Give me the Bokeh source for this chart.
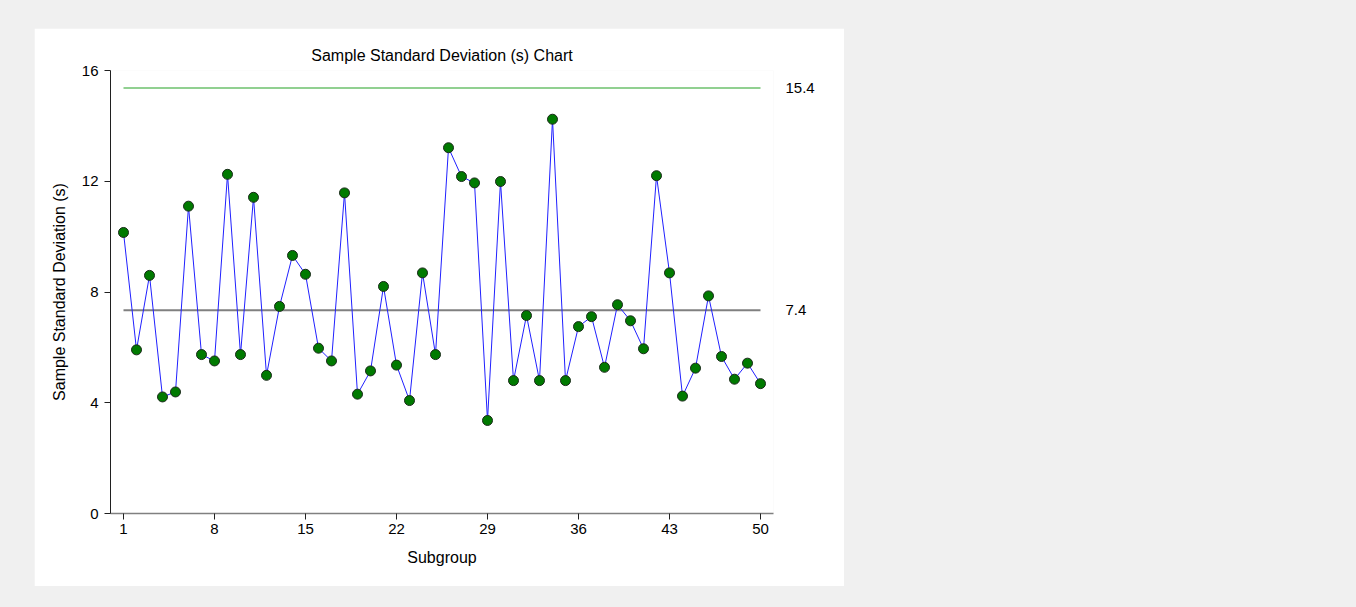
from bokeh.plotting import figure
from bokeh.models import Range1d, FixedTicker, ColumnDataSource, LinearAxis
from bokeh.layouts import column
from bokeh.embed import file_html
from bokeh.resources import INLINE

subgroups = list(range(1, 51))
s_values = [10.15, 5.91, 8.60, 4.21, 4.39, 11.10, 5.74, 5.51, 12.25, 5.74,
            11.42, 4.99, 7.48, 9.32, 8.64, 5.97, 5.51, 11.58, 4.31, 5.15,
            8.20, 5.36, 4.08, 8.69, 5.74, 13.21, 12.17, 11.94, 3.36, 11.99,
            4.80, 7.15, 4.80, 14.24, 4.80, 6.75, 7.11, 5.28, 7.54, 6.96,
            5.95, 12.20, 8.69, 4.24, 5.25, 7.86, 5.67, 4.85, 5.43, 4.69]
ucl = 15.37
cl = 7.34
ucl_label = "15.4"
cl_label = "7.4"
x_ticks = [1, 8, 15, 22, 29, 36, 43, 50]
y_ticks = [0, 4, 8, 12, 16]

FONT = "Liberation Sans"

p = figure(width=810, height=558, output_backend="svg", toolbar_location=None,
           x_range=Range1d(0, 51), y_range=Range1d(0, 16),
           min_border_left=76, min_border_right=71, min_border_top=42, min_border_bottom=73,
           title="Sample Standard Deviation (s) Chart")
p.margin = (28, 0, 0, 34)
p.background_fill_color = "white"
p.border_fill_color = "white"
p.outline_line_color = None
p.grid.visible = False

p.title.align = "center"
p.title.text_font = FONT
p.title.text_font_size = "16px"
p.title.text_font_style = "normal"
p.title.text_color = "black"
p.title.standoff = 13

for ax in (p.xaxis[0], p.yaxis[0]):
    ax.major_label_text_font = FONT
    ax.major_label_text_font_size = "15px"
    ax.major_label_text_color = "black"
    ax.axis_label_text_font = FONT
    ax.axis_label_text_font_size = "16px"
    ax.axis_label_text_font_style = "normal"
    ax.axis_label_text_color = "black"
    ax.minor_tick_line_color = None
    ax.major_tick_in = 0
    ax.major_tick_out = 6
    ax.major_tick_line_color = "#202020"

p.xaxis.ticker = FixedTicker(ticks=x_ticks)
p.yaxis.ticker = FixedTicker(ticks=y_ticks)
p.xaxis.axis_label = "Subgroup"
p.yaxis.axis_label = "Sample Standard Deviation (s)"
p.xaxis.axis_line_color = "#808080"
p.xaxis.axis_line_width = 1.5
p.yaxis.axis_line_color = "#202020"
p.xaxis.major_label_standoff = 4
p.yaxis.major_label_standoff = 6
p.xaxis.axis_label_standoff = 12
p.yaxis.axis_label_standoff = 11

# right-side labels for the control limits
rax = LinearAxis(ticker=FixedTicker(ticks=[ucl, cl]),
                 major_label_overrides={ucl: ucl_label, cl: cl_label})
rax.axis_line_color = None
rax.major_tick_line_color = None
rax.minor_tick_line_color = None
rax.major_label_standoff = 6
rax.major_label_text_font = FONT
rax.major_label_text_font_size = "15px"
rax.major_label_text_color = "black"
p.add_layout(rax, "right")

src = ColumnDataSource(dict(x=subgroups, y=s_values))

p.line([subgroups[0], subgroups[-1]], [ucl, ucl], line_color="#6cc06c", line_width=1.5)
p.line([subgroups[0], subgroups[-1]], [cl, cl], line_color="#808080", line_width=1.8)
p.line("x", "y", source=src, line_color="#2020ff", line_width=1)
p.scatter("x", "y", source=src, size=10, marker="circle", fill_color="#007a00",
          line_color="#1a2a1a", line_width=1)

layout = column(p, width=1356, height=607, styles={"background-color": "#f0f0f0"})

open("out.html", "w").write(file_html(layout, INLINE))
